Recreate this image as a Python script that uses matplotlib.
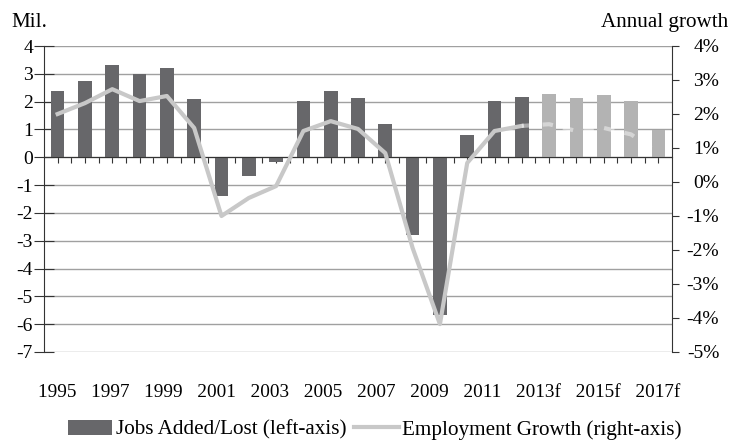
import matplotlib
matplotlib.use("Agg")
import matplotlib.pyplot as plt
from matplotlib.patches import Patch
from matplotlib.lines import Line2D
import numpy as np

# ─────────────────────────────────────────────
# Data
# ─────────────────────────────────────────────

years = ["1995", "1996", "1997", "1998", "1999", "2000", "2001", "2002", "2003",
         "2004", "2005", "2006", "2007", "2008", "2009", "2010", "2011", "2012",
         "2013f", "2014f", "2015f", "2016f", "2017f"]

# jobs added / lost, millions (left axis)
jobs = [2.38, 2.74, 3.32, 3.0, 3.21, 2.09, -1.4, -0.68, -0.18,
        2.02, 2.38, 2.13, 1.19, -2.78, -5.67, 0.8, 2.02, 2.17,
        2.27, 2.13, 2.24, 2.02, 0.97]

# employment growth, % (right axis)
growth = [2.0, 2.32, 2.73, 2.38, 2.53, 1.59, -1.0, -0.47, -0.12,
          1.5, 1.79, 1.56, 0.85, -1.94, -4.18, 0.56, 1.5, 1.65,
          1.7, 1.5, 1.59, 1.4, 0.85]

n_actual = 18  # 1995..2012 are actuals, the rest are forecasts

left_ticks = list(range(-7, 5))
right_ticks = list(range(-5, 5))

DARK = "#67676a"
LIGHT = "#b3b3b3"
LINE = "#c8c8c8"
GRID = "#a0a0a0"
AXC = "#333333"

plt.rcParams["font.family"] = ["Liberation Serif", "DejaVu Serif"]
FS = 15.2     # titles / legend
FS_TICK = 14  # axis numbers
FS_YEAR = 13.9

# ─────────────────────────────────────────────
# Figure
# ─────────────────────────────────────────────

fig = plt.figure(figsize=(7.29, 4.42), dpi=100)
ax = fig.add_axes([44 / 729, 90 / 442, 628 / 729, 306 / 442])
ax2 = ax.twinx()

x = np.arange(len(years))
colors = [DARK] * n_actual + [LIGHT] * (len(years) - n_actual)
ax.bar(x, jobs, width=0.5, color=colors, zorder=2)

ax.set_xlim(-0.5, len(years) - 0.5)
ax.set_ylim(-7, 4)
ax.set_yticks(left_ticks)
ax.set_yticklabels([str(t) for t in left_ticks])
ax.yaxis.grid(True, color=GRID, linewidth=1.0, zorder=0)
ax.set_axisbelow(True)

# category axis sits on the zero line, tick marks every half category
ax.spines["bottom"].set_position(("data", 0))
ax.spines["bottom"].set_color(AXC)
ax.spines["top"].set_visible(False)
ax.spines["right"].set_visible(False)
ax.spines["left"].set_color(AXC)
ax.set_xticks(np.arange(0, len(years) - 0.5, 0.5))
ax.tick_params(axis="x", direction="out", length=4, color=AXC, labelbottom=False)
ax.tick_params(axis="y", direction="inout", length=14, color=AXC,
               labelsize=FS_TICK, pad=1)

# year labels: one typeset line below the plot, every other year
fig.text(38 / 729, 1 - 397 / 442, "   ".join(years[::2]), fontsize=FS_YEAR,
         ha="left", va="baseline")

# growth line (right axis)
ax2.plot(x[:n_actual], growth[:n_actual], color=LINE, linewidth=3, zorder=3)
ax2.plot(x[n_actual - 1:], growth[n_actual - 1:], color="white", alpha=0.45,
         linewidth=3, dashes=(2.5, 2.5), zorder=3)
ax2.set_ylim(-5, 4)
ax2.set_yticks(right_ticks)
ax2.set_yticklabels([f"{t}%" for t in right_ticks], ha="right")
ax2.tick_params(axis="y", direction="out", length=5, color=AXC,
                labelsize=FS_TICK, pad=29)
for side in ("top", "left", "bottom"):
    ax2.spines[side].set_visible(False)
ax2.spines["right"].set_color(AXC)
ax.set_zorder(ax2.get_zorder() - 1)
ax.patch.set_visible(True)
ax2.patch.set_visible(False)

fig.text(11 / 729, 1 - 27 / 442, "Mil.", fontsize=FS, ha="left", va="baseline")
fig.text(728 / 729, 1 - 27 / 442, "Annual growth", fontsize=FS, ha="right", va="baseline")

handles = [Patch(facecolor=DARK, edgecolor="none"),
           Line2D([], [], color=LINE, linewidth=3)]
fig.legend(handles, ["Jobs Added/Lost (left-axis)", "Employment Growth (right-axis)"],
           loc="center left", bbox_to_anchor=(68 / 729, 1 - 430 / 442), ncol=2,
           frameon=False, fontsize=FS, handlelength=2.1, handletextpad=0.15,
           columnspacing=0.4, borderpad=0, borderaxespad=0)

fig.savefig("out.png", dpi=100)
